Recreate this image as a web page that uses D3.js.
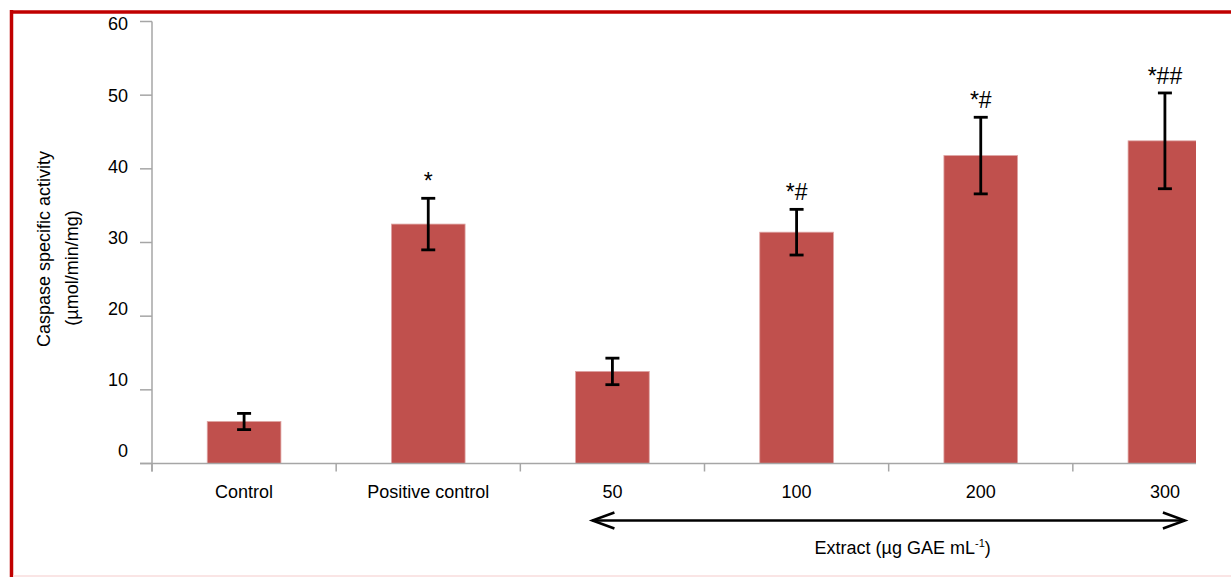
<!DOCTYPE html>
<html>
<head>
<meta charset="utf-8">
<script src="https://cdn.jsdelivr.net/npm/d3@7"></script>
<style>
  body { margin: 0; background: #fff; }
  svg { display: block; font-family: "Liberation Sans", Arial, sans-serif; }
</style>
</head>
<body>
<div id="chart"></div>
<script>
// data
let categories = ["Control", "Positive control", "50", "100", "200", "300"];
let means      = [5.7, 32.5, 12.5, 31.4, 41.8, 43.8];
let errors     = [1.1, 3.5, 1.8, 3.1, 5.2, 6.5];
let marks      = ["", "*", "", "*#", "*#", "*##"];
let yTicks     = [0, 10, 20, 30, 40, 50, 60];

let width = 1231, height = 577;

let svg = d3.select("#chart")
  .append("svg")
  .attr("width", width)
  .attr("height", height);

// frame (cropped figure border)
svg.append("line").attr("x1", 11.5).attr("x2", 11.5).attr("y1", 10).attr("y2", height)
  .attr("stroke", "#c00000").attr("stroke-width", 3.5);
svg.append("line").attr("x1", 10).attr("x2", width).attr("y1", 12).attr("y2", 12)
  .attr("stroke", "#c00000").attr("stroke-width", 3.5);
svg.append("line").attr("x1", 13).attr("x2", width).attr("y1", 576).attr("y2", 576)
  .attr("stroke", "#f9dcdc").attr("stroke-width", 1.5);

let x = d3.scaleBand().domain(categories).range([152, 1257]).paddingInner(0).paddingOuter(0);
let y = d3.scaleLinear().domain([0, 60]).range([463.5, 21.5]);
// tick labels in the figure sit on a slightly tighter spacing than the ticks
let yLabel = d3.scaleLinear().domain([0, 60]).range([451, 24]);

let barW = x.bandwidth() * 0.4;
let cx = function(d) { return x(d) + x.bandwidth() / 2; };

svg.append("clipPath").attr("id", "plotclip")
  .append("rect").attr("x", 0).attr("y", 0).attr("width", 1196).attr("height", height);

let plot = svg.append("g").attr("clip-path", "url(#plotclip)");

// bars
plot.selectAll("rect.bar")
  .data(categories)
  .enter()
  .append("rect")
  .attr("class", "bar")
  .attr("x", function(d) { return cx(d) - barW / 2; })
  .attr("width", barW)
  .attr("y", function(d, i) { return y(means[i]); })
  .attr("height", function(d, i) { return y(0) - y(means[i]); })
  .attr("fill", "#c0504d")
  .attr("stroke", "#dea4a3")
  .attr("stroke-width", 0.8);

// x axis line and ticks between categories
plot.append("line")
  .attr("x1", 140).attr("x2", 1257)
  .attr("y1", y(0)).attr("y2", y(0))
  .attr("stroke", "#a6a6a6").attr("stroke-width", 1.5);

plot.selectAll("line.xtick")
  .data(categories)
  .enter()
  .append("line")
  .attr("class", "xtick")
  .attr("x1", function(d) { return x(d); })
  .attr("x2", function(d) { return x(d); })
  .attr("y1", y(0)).attr("y2", y(0) + 8)
  .attr("stroke", "#a6a6a6").attr("stroke-width", 1.5);

// y axis
svg.append("line")
  .attr("x1", 152).attr("x2", 152)
  .attr("y1", y(60)).attr("y2", y(0) + 8)
  .attr("stroke", "#a6a6a6").attr("stroke-width", 1.5);

svg.selectAll("line.ytick")
  .data(yTicks)
  .enter()
  .append("line")
  .attr("class", "ytick")
  .attr("x1", 140).attr("x2", 152)
  .attr("y1", function(d) { return y(d); })
  .attr("y2", function(d) { return y(d); })
  .attr("stroke", "#a6a6a6").attr("stroke-width", 1.5);

svg.selectAll("text.ylab")
  .data(yTicks)
  .enter()
  .append("text")
  .attr("class", "ylab")
  .attr("x", 128)
  .attr("y", function(d) { return yLabel(d); })
  .attr("dy", "0.36em")
  .attr("text-anchor", "end")
  .attr("font-size", 18)
  .attr("fill", "#000")
  .text(function(d) { return d; });

// error bars
let eb = plot.selectAll("g.err")
  .data(categories)
  .enter()
  .append("g")
  .attr("class", "err")
  .attr("stroke", "#000")
  .attr("stroke-width", 2.8);

eb.append("line")
  .attr("x1", cx).attr("x2", cx)
  .attr("y1", function(d, i) { return y(means[i] + errors[i]); })
  .attr("y2", function(d, i) { return y(means[i] - errors[i]); });
eb.append("line")
  .attr("x1", function(d) { return cx(d) - 7; })
  .attr("x2", function(d) { return cx(d) + 7; })
  .attr("y1", function(d, i) { return y(means[i] + errors[i]); })
  .attr("y2", function(d, i) { return y(means[i] + errors[i]); });
eb.append("line")
  .attr("x1", function(d) { return cx(d) - 7; })
  .attr("x2", function(d) { return cx(d) + 7; })
  .attr("y1", function(d, i) { return y(means[i] - errors[i]); })
  .attr("y2", function(d, i) { return y(means[i] - errors[i]); });

// significance marks
svg.selectAll("text.mark")
  .data(categories)
  .enter()
  .append("text")
  .attr("class", "mark")
  .attr("x", cx)
  .attr("y", function(d, i) { return y(means[i] + errors[i]) - 9; })
  .attr("text-anchor", "middle")
  .attr("font-size", 23)
  .text(function(d, i) { return marks[i]; });

// category labels
svg.selectAll("text.xlab")
  .data(categories)
  .enter()
  .append("text")
  .attr("class", "xlab")
  .attr("x", cx)
  .attr("y", 498)
  .attr("text-anchor", "middle")
  .attr("font-size", 18)
  .text(function(d) { return d; });

// y axis title
let yt = svg.append("g");
yt.append("text")
  .attr("transform", "translate(44,249) rotate(-90)")
  .attr("text-anchor", "middle")
  .attr("dominant-baseline", "central")
  .attr("font-size", 18)
  .text("Caspase specific activity");
yt.append("text")
  .attr("transform", "translate(72,268) rotate(-90)")
  .attr("text-anchor", "middle")
  .attr("dominant-baseline", "central")
  .attr("font-size", 18)
  .text("(µmol/min/mg)");

// double arrow spanning the extract doses
let ax1 = cx("50") - 20, ax2 = cx("300") + 20, ay = 520.5;
let arrow = svg.append("g")
  .attr("stroke", "#000").attr("stroke-width", 2.5).attr("fill", "none");
arrow.append("line").attr("x1", ax1).attr("x2", ax2).attr("y1", ay).attr("y2", ay);
arrow.append("path")
  .attr("d", "M" + (ax1 + 22) + "," + (ay - 8) + " L" + ax1 + "," + ay + " L" + (ax1 + 22) + "," + (ay + 8));
arrow.append("path")
  .attr("d", "M" + (ax2 - 22) + "," + (ay - 8) + " L" + ax2 + "," + ay + " L" + (ax2 - 22) + "," + (ay + 8));

let ext = svg.append("text")
  .attr("x", (ax1 + ax2) / 2 + 14)
  .attr("y", 554)
  .attr("text-anchor", "middle")
  .attr("font-size", 18);
ext.append("tspan").text("Extract (µg GAE mL");
ext.append("tspan").attr("font-size", 11).attr("dy", -7).text("-1");
ext.append("tspan").attr("dy", 7).text(")");
</script>
</body>
</html>
